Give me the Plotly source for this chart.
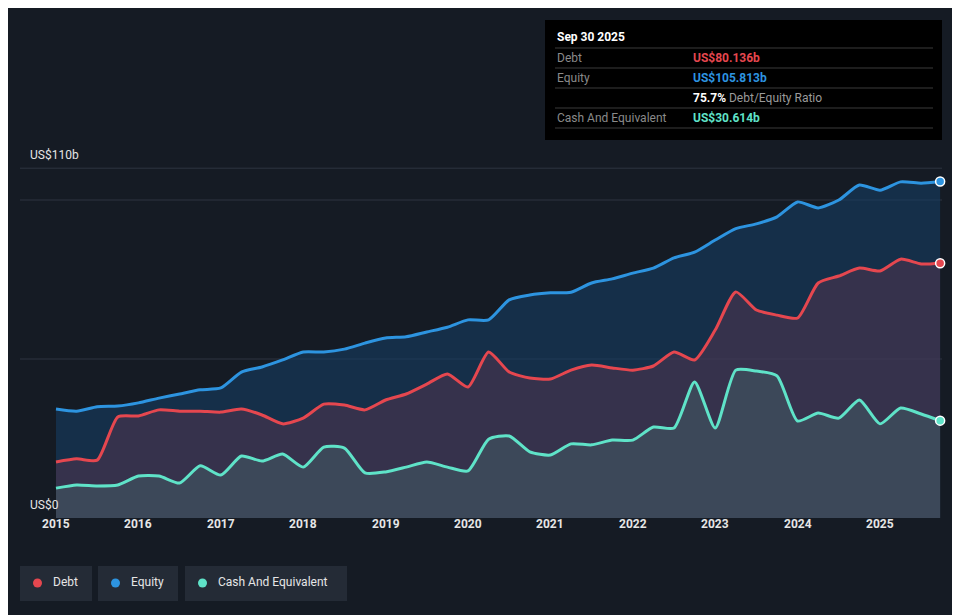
import plotly.graph_objects as go

# quarter-end dates, Dec 2014 .. Sep 2025
periods = [2015.0 + 0.25 * i for i in range(43)] + [2025.73]

debt = [17.6, 18.6, 18.2, 31.8, 32.1, 34.0, 33.6, 33.6, 33.3, 34.3, 32.4, 29.6,
        31.4, 35.8, 35.5, 34.0, 37.1, 39.0, 42.1, 45.3, 41.2, 52.2, 45.9, 44.0,
        43.7, 46.5, 48.1, 47.2, 46.5, 47.8, 52.2, 49.7, 59.1, 71.1, 65.4, 63.8,
        62.9, 73.9, 76.1, 78.6, 77.7, 81.4, 79.9, 80.136]
equity = [34.3, 33.6, 35.0, 35.2, 36.2, 37.7, 39.0, 40.3, 40.9, 45.9, 47.5, 49.7,
          52.2, 52.2, 53.1, 55.0, 56.6, 57.0, 58.5, 60.0, 62.3, 62.3, 68.6, 70.1,
          70.8, 71.0, 73.9, 75.2, 77.0, 78.6, 81.8, 83.6, 87.4, 91.0, 92.5, 94.7,
          99.4, 97.5, 100.0, 104.7, 103.1, 105.7, 105.3, 105.813]
cash = [9.4, 10.4, 10.1, 10.4, 13.2, 13.2, 11.0, 16.4, 13.5, 19.5, 17.9, 20.1,
        16.0, 22.3, 22.0, 14.2, 14.5, 16.0, 17.6, 16.0, 14.8, 24.8, 25.8, 20.8,
        19.8, 23.3, 23.0, 24.5, 24.5, 28.6, 28.3, 42.8, 28.3, 46.5, 46.2, 44.7,
        30.5, 33.0, 31.4, 37.1, 29.6, 34.6, 32.7, 30.614]
years = list(range(2015, 2026))

BG = "#151b24"
RED, BLUE, TEAL = "#e5474f", "#2d94e0", "#5fe3c8"
W, H = 960, 615
OFF = 8  # page margin shifts the figure

def px(x):
    return (x - OFF) / W

def py(y):
    return 1 - (y - OFF) / H

fig = go.Figure()
series = [("Equity", equity, BLUE, "rgba(22,62,98,0.6)"),
          ("Debt", debt, RED, "rgba(95,55,80,0.45)"),
          ("Cash And Equivalent", cash, TEAL, "rgba(70,105,110,0.4)")]
for name, vals, col, fillc in series:
    fig.add_trace(go.Scatter(x=periods, y=vals, mode="lines", name=name,
                             line=dict(color=col, width=3, shape="spline", smoothing=0.6),
                             fill="tozeroy", fillcolor=fillc, hoverinfo="skip"))
    fig.add_trace(go.Scatter(x=[periods[-1]], y=[vals[-1]], mode="markers",
                             marker=dict(color=col, size=9, line=dict(color="white", width=1.5)),
                             hoverinfo="skip"))

shapes = []
annotations = []
for v in [110, 100, 50]:
    shapes.append(dict(type="line", xref="paper", yref="y", x0=px(20), x1=px(942), y0=v, y1=v,
                       line=dict(color="#2e3540", width=1), layer="below"))
annotations.append(dict(x=px(28), y=110, xref="paper", yref="y", text="US$110b", showarrow=False,
                        xanchor="left", yanchor="bottom", yshift=4, font=dict(color="#e6e6e6", size=12)))
annotations.append(dict(x=px(28), y=0, xref="paper", yref="y", text="US$0", showarrow=False,
                        xanchor="left", yanchor="bottom", yshift=4, font=dict(color="#e6e6e6", size=12)))
for yr in years:
    annotations.append(dict(x=yr, y=py(533), xref="x", yref="paper", text=str(yr), showarrow=False,
                            font=dict(color="#e6e6e6", size=12, family="Roboto", weight="bold")))

# tooltip box
shapes.append(dict(type="rect", xref="paper", yref="paper", x0=px(545), x1=px(942), y0=py(20), y1=py(140),
                   fillcolor="#000000", line=dict(width=0)))
for yy in [48, 68, 88, 108, 128]:
    shapes.append(dict(type="line", xref="paper", yref="paper", x0=px(555), x1=px(933), y0=py(yy), y1=py(yy),
                       line=dict(color="#3a3a3a", width=1)))

def tip(x, y, text, color, bold=False):
    annotations.append(dict(x=px(x), y=py(y), xref="paper", yref="paper", text=text, showarrow=False,
                            xanchor="left", yanchor="middle",
                            font=dict(color=color, size=12, family="Roboto",
                                      weight="bold" if bold else "normal")))

tip(555, 37, "Sep 30 2025", "#ffffff", True)
tip(555, 58, "Debt", "#8a8a8a")
tip(691, 58, "US$80.136b", RED, True)
tip(555, 78, "Equity", "#8a8a8a")
tip(691, 78, "US$105.813b", BLUE, True)
tip(691, 98, "<b style='color:#ffffff'>75.7%</b> Debt/Equity Ratio", "#9a9a9a")
tip(555, 118, "Cash And Equivalent", "#8a8a8a")
tip(691, 118, "US$30.614b", TEAL, True)

# legend buttons
legend = [("Debt", RED, 20, 92), ("Equity", BLUE, 98, 178), ("Cash And Equivalent", TEAL, 185, 347)]
for name, col, x0, x1 in legend:
    shapes.append(dict(type="rect", xref="paper", yref="paper", x0=px(x0), x1=px(x1), y0=py(601), y1=py(566),
                       fillcolor="#242b36", line=dict(width=0)))
    shapes.append(dict(type="circle", xref="paper", yref="paper", x0=px(x0 + 13), x1=px(x0 + 22),
                       y0=py(587.5), y1=py(578.5), fillcolor=col, line=dict(width=0)))
    annotations.append(dict(x=px(x0 + 31), y=py(582), xref="paper", yref="paper", text=name, showarrow=False,
                            xanchor="left", yanchor="middle", font=dict(color="#e6e6e6", size=12, family="Roboto")))

x0 = 2015 - (56 - OFF) / 82.4
fig.update_layout(
    width=W, height=H, margin=dict(l=0, r=0, t=0, b=0),
    paper_bgcolor=BG, plot_bgcolor=BG, showlegend=False,
    font=dict(family="Roboto"),
    xaxis=dict(range=[x0, x0 + W / 82.4], visible=False, fixedrange=True),
    yaxis=dict(range=[(518 - OFF - H) / 3.18, (518 - OFF) / 3.18], visible=False, fixedrange=True),
    shapes=shapes, annotations=annotations,
)
fig.write_html("out.html")
